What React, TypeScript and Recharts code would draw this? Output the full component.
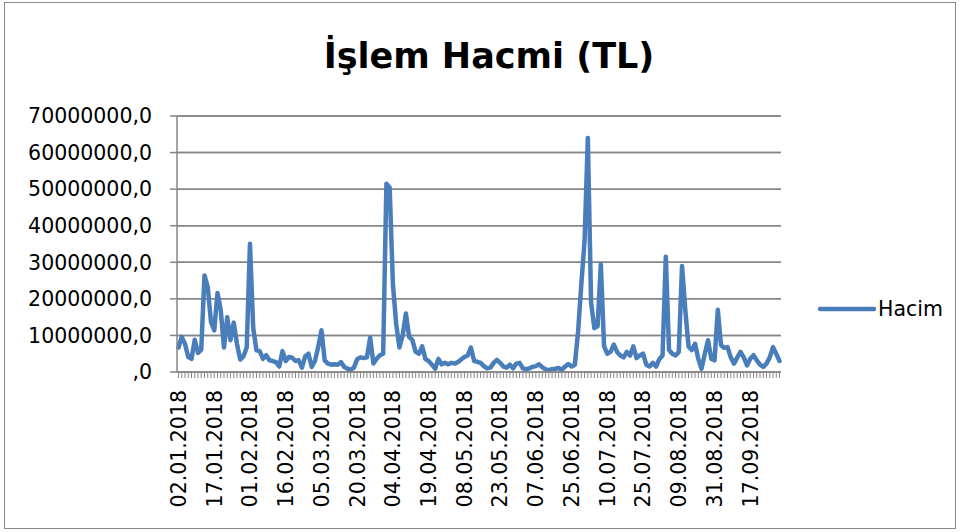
import { LineChart, Line, XAxis, YAxis, CartesianGrid, ReferenceLine } from 'recharts';

// trading days in 2018 (holidays left out), by month
const GUNLER: number[][] = [
  [2, 3, 4, 5, 8, 9, 10, 11, 12, 15, 16, 17, 18, 19, 22, 23, 24, 25, 26, 29, 30, 31],
  [1, 2, 5, 6, 7, 8, 9, 12, 13, 14, 15, 16, 19, 20, 21, 22, 23, 26, 27, 28],
  [1, 2, 5, 6, 7, 8, 9, 12, 13, 14, 15, 16, 19, 20, 21, 22, 23, 26, 27, 28, 29, 30],
  [2, 3, 4, 5, 6, 9, 10, 11, 12, 13, 16, 17, 18, 19, 20, 24, 25, 26, 27, 30],
  [2, 3, 4, 7, 8, 9, 10, 11, 14, 15, 16, 17, 18, 21, 22, 23, 24, 25, 28, 29, 30, 31],
  [1, 4, 5, 6, 7, 8, 11, 12, 13, 14, 18, 19, 20, 21, 22, 25, 26, 27, 28, 29],
  [2, 3, 4, 5, 6, 9, 10, 11, 12, 13, 16, 17, 18, 19, 20, 23, 24, 25, 26, 27, 30, 31],
  [1, 2, 3, 6, 7, 8, 9, 10, 13, 14, 15, 16, 17, 20, 27, 28, 29, 31],
  [3, 4, 5, 6, 7, 10, 11, 12, 13, 14, 17, 18, 19, 20, 21, 24, 25, 26, 27, 28],
];

// işlem hacmi, milyon TL
const hacimMilyon = [
  6.7, 9.6, 7.7, 4.1, 3.6, 8.8, 5.2, 6.1, 26.4, 23.2,
  13.7, 11.4, 21.6, 16.9, 6.7, 15, 8.7, 13.5, 7.7, 3.4,
  4.3, 6.7, 35.1, 12, 5.9, 5.7, 3.6, 4.6, 3.2, 3,
  2.7, 1.5, 5.7, 3, 4.1, 3.9, 3, 3.2, 1.2, 4.3,
  5, 1.4, 3, 6.8, 11.4, 3.2, 2.3, 2, 2.1, 2,
  2.7, 1.4, 0.9, 0.6, 1.2, 3.5, 4, 3.8, 4, 9.4,
  2.3, 3.6, 4.6, 5, 51.5, 50.4, 24, 13.2, 6.7, 10,
  16, 9.6, 8.7, 5.5, 5, 7, 3.6, 3, 2, 0.9,
  3.6, 2.1, 2.5, 2.1, 2.5, 2.3, 2.7, 3.4, 4.1, 4.5,
  6.7, 3, 2.8, 2.5, 1.6, 1, 1.2, 2.5, 3.3, 2.5,
  1.5, 1.2, 2, 1, 2.3, 2.5, 1, 0.8, 1, 1.4,
  1.6, 2.1, 1.3, 0.7, 0.5, 0.8, 0.9, 1.1, 0.6, 1.5,
  2.2, 1.5, 2, 11, 24, 36, 64, 19, 12, 12.5,
  29.5, 7, 5, 5.5, 7.5, 5.5, 4.5, 4, 5.5, 4.5,
  7, 3.8, 4.5, 5, 2, 1.5, 2.5, 1.5, 3.5, 4.5,
  31.5, 6, 5, 4.5, 5.5, 29, 17, 7, 6, 7.7,
  3.6, 0.9, 5, 8.7, 3.6, 3.2, 17, 7.3, 6.6, 6.8,
  4, 2.3, 4, 5.5, 4, 1.8, 3.6, 4.6, 3.2, 2,
  1.4, 2.3, 4, 6.8, 5, 3,
];

const yTicks = [0, 10000000, 20000000, 30000000, 40000000, 50000000, 60000000, 70000000];

const pad = (n: number) => String(n).padStart(2, '0');
const tarihler = GUNLER.flatMap((days, m) => days.map((d) => `${pad(d)}.${pad(m + 1)}.2018`));

const data = tarihler.map((tarih, i) => ({ tarih, Hacim: hacimMilyon[i] * 1e6 }));

const FONT = '"DejaVu Sans", sans-serif';
const AXIS = '#868686';
const BLUE = '#4a7ebb';

function DateTick(props: any) {
  const { x, y, payload, index } = props;
  if (index % 11 !== 0) return null;
  return (
    <text
      x={x}
      y={y}
      transform={`rotate(-90 ${x} ${y})`}
      textAnchor="end"
      dy="0.36em"
      fontFamily={FONT}
      fontSize={20.5}
      fill="#000"
    >
      {payload.value}
    </text>
  );
}

export default function App() {
  return (
    <div style={{ position: 'absolute', left: 0, top: 0, width: 962, height: 532, background: '#fff' }}>
      <div
        style={{
          position: 'absolute', left: 4, top: 2, width: 952, height: 527,
          border: '1px solid #8a8a8a', boxSizing: 'border-box',
        }}
      />
      <div
        style={{
          position: 'absolute', left: 0, top: 35, width: 978, textAlign: 'center',
          fontFamily: FONT, fontWeight: 'bold', fontSize: 35, lineHeight: '42px',
        }}
      >
        İşlem Hacmi (TL)
      </div>
      <LineChart
        width={962}
        height={532}
        data={data}
        margin={{ top: 116, right: 181, bottom: 0, left: 0 }}
        style={{ position: 'absolute', left: 0, top: 0 }}
      >
        <CartesianGrid vertical={false} horizontal syncWithTicks stroke={AXIS} strokeWidth={1.5} />
        {yTicks.slice(1).map((t) => (
          <ReferenceLine key={t} y={t} stroke={AXIS} strokeWidth={1.5} />
        ))}
        <XAxis
          dataKey="tarih"
          interval={0}
          height={160}
          padding={{ left: 1.5, right: 1.5 }}
          tick={DateTick}
          tickSize={6}
          tickMargin={12}
          tickLine={{ stroke: AXIS, strokeWidth: 1 }}
          axisLine={{ stroke: AXIS, strokeWidth: 1.5 }}
        />
        <YAxis
          width={177}
          domain={[0, 70000000]}
          ticks={yTicks}
          interval={0}
          tickFormatter={(v: number) => (v === 0 ? ',0' : `${v},0`)}
          tick={{ fontFamily: FONT, fontSize: 20.5, fill: '#000' }}
          tickSize={7}
          tickMargin={18}
          tickLine={{ stroke: AXIS, strokeWidth: 1.5 }}
          axisLine={{ stroke: AXIS, strokeWidth: 1.5 }}
        />
        <Line
          dataKey="Hacim"
          stroke={BLUE}
          strokeWidth={4.5}
          strokeLinejoin="round"
          strokeLinecap="round"
          dot={false}
          activeDot={false}
          isAnimationActive={false}
        />
      </LineChart>
      <div
        style={{
          position: 'absolute', left: 816, top: 297, display: 'flex', alignItems: 'center',
          fontFamily: FONT, fontSize: 20.5,
        }}
      >
        <svg width={60} height={10}>
          <line x1={4} y1={5} x2={58} y2={5} stroke={BLUE} strokeWidth={4.5} strokeLinecap="round" />
        </svg>
        <span style={{ marginLeft: 2 }}>Hacim</span>
      </div>
    </div>
  );
}
